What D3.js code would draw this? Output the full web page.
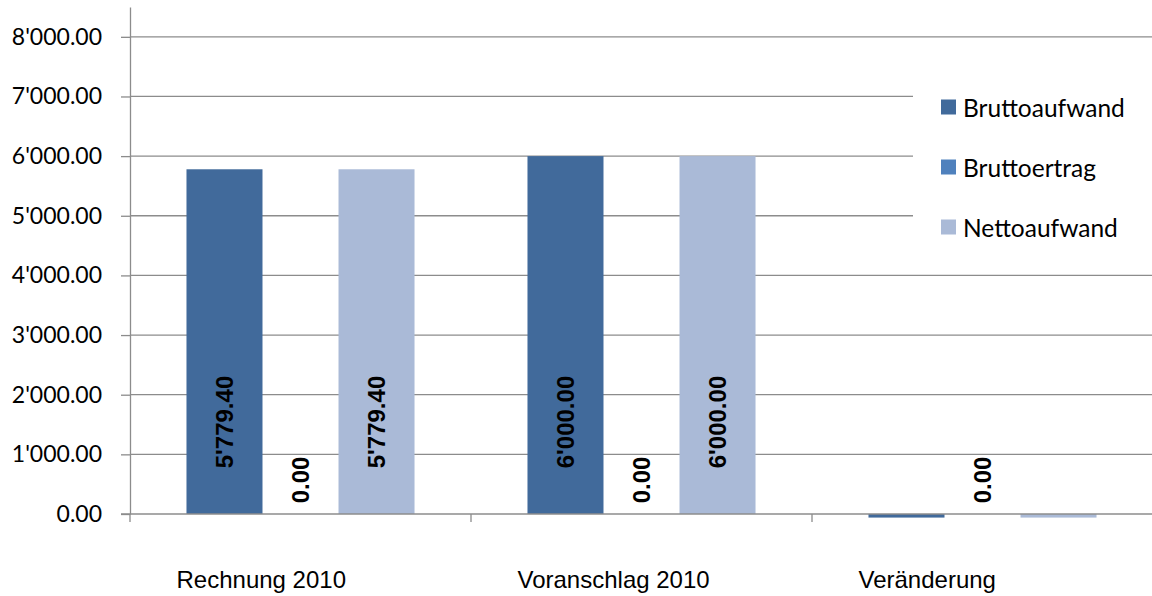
<!DOCTYPE html>
<html lang="de">
<head>
<meta charset="UTF-8">
<title>Rechnung / Voranschlag 2010</title>
<script src="https://d3js.org/d3.v7.min.js"></script>
<style>
  body { margin: 0; background: #fff; }
  svg { display: block; overflow: hidden; }
</style>
</head>
<body>
<div id="chart"></div>
<script>
// Data
const categories = ["Rechnung 2010", "Voranschlag 2010", "Veränderung"];
const seriesNames = ["Bruttoaufwand", "Bruttoertrag", "Nettoaufwand"];
const bruttoaufwand = [5779.40, 6000.00, -60];
const bruttoertrag = [0.00, 0.00, 0.00];
const nettoaufwand = [5779.40, 6000.00, -60];
const yTicks = [0, 1000, 2000, 3000, 4000, 5000, 6000, 7000, 8000];
const colors = ["#416a9b", "#4f81bd", "#aabad7"];

const seriesValues = [bruttoaufwand, bruttoertrag, nettoaufwand];

const margin = {top: 7, right: 0, bottom: 82, left: 130},
    W = 1152, H = 596,
    width = 1023,
    height = H - margin.top - margin.bottom;

const chLocale = d3.formatLocale({decimal: ".", thousands: "'", grouping: [3], currency: ["", ""]});
const fmt = chLocale.format(",.2f");

const svg = d3.select("#chart").append("svg")
    .attr("width", W)
    .attr("height", H)
  .append("g")
    .attr("transform", `translate(${margin.left},${margin.top})`);

const x = d3.scaleBand().domain(categories).range([0, width]).padding(0);
const x1 = d3.scaleBand().domain(seriesNames).range([0, x.bandwidth()])
    .paddingInner(0).paddingOuter(0.743);
const y = d3.scaleLinear().domain([0, 8500]).range([height, 0]);

const axisFont = "Lato, 'Open Sans', sans-serif";
const gridColor = "#8c8c8c";

// grid lines
svg.append("g").selectAll("line")
    .data(yTicks.filter(d => d > 0))
    .join("line")
    .attr("x1", 0).attr("x2", W)
    .attr("y1", d => y(d)).attr("y2", d => y(d))
    .attr("stroke", gridColor).attr("stroke-width", 1.3);

// y axis
const yAxis = svg.append("g")
    .call(d3.axisLeft(y).tickValues(yTicks).tickFormat(fmt).tickSize(9).tickSizeOuter(0).tickPadding(19));
yAxis.select(".domain").attr("stroke", gridColor).attr("stroke-width", 1.3);
yAxis.selectAll(".tick line").attr("stroke", gridColor).attr("stroke-width", 1.3);
yAxis.selectAll(".tick text")
    .attr("fill", "#000")
    .style("font-family", axisFont)
    .style("font-size", "23px");

// flat data for bars
const rows = [];
categories.forEach((c, i) => {
  seriesNames.forEach((s, j) => {
    rows.push({cat: c, series: s, value: seriesValues[j][i], color: colors[j]});
  });
});

// bars
svg.append("g").selectAll("rect")
    .data(rows)
    .join("rect")
    .attr("x", d => x(d.cat) + x1(d.series))
    .attr("y", d => y(Math.max(0, d.value)))
    .attr("width", x1.bandwidth())
    .attr("height", d => Math.abs(y(d.value) - y(0)))
    .attr("fill", d => d.color);

// x axis line and category ticks
svg.append("line")
    .attr("x1", -9).attr("x2", W)
    .attr("y1", y(0)).attr("y2", y(0))
    .attr("stroke", gridColor).attr("stroke-width", 1.3);
svg.append("g").selectAll("line")
    .data(categories)
    .join("line")
    .attr("x1", d => x(d)).attr("x2", d => x(d))
    .attr("y1", y(0)).attr("y2", y(0) + 8)
    .attr("stroke", gridColor).attr("stroke-width", 1.3);

// category labels
svg.append("g").selectAll("text")
    .data(categories)
    .join("text")
    .attr("x", d => x(d) + x.bandwidth() / 2 - 124)
    .attr("y", height + 74)
    .attr("text-anchor", "start")
    .style("font-family", "'Liberation Sans', Arial, sans-serif")
    .style("font-size", "24px")
    .attr("fill", "#000")
    .text(d => d);

// value labels (negative ones are not shown)
svg.append("g").selectAll("text")
    .data(rows.filter(d => d.value >= 0))
    .join("text")
    .attr("transform", d => {
      const cx = x(d.cat) + x1(d.series) + x1.bandwidth() / 2;
      const cy = y(0) - (d.value > 0 ? 92 : 34);
      return `translate(${cx},${cy}) rotate(-90)`;
    })
    .attr("text-anchor", "middle")
    .attr("dominant-baseline", "central")
    .style("font-family", "'Liberation Sans', Arial, sans-serif")
    .style("font-size", "24px")
    .style("font-weight", "bold")
    .attr("fill", "#000")
    .text(d => fmt(d.value));

// legend
const legend = svg.append("g")
    .attr("transform", `translate(${913 - margin.left},${40 - margin.top})`);
legend.append("rect")
    .attr("width", 260).attr("height", 230)
    .attr("fill", "#fff");
const items = legend.selectAll("g.item")
    .data(seriesNames)
    .join("g")
    .attr("class", "item")
    .attr("transform", (d, i) => `translate(28,${67 + i * 60})`);
items.append("rect")
    .attr("x", 0).attr("y", -7.5)
    .attr("width", 15).attr("height", 15)
    .attr("fill", (d, i) => colors[i]);
items.append("text")
    .attr("x", 22).attr("y", 0)
    .attr("dominant-baseline", "central")
    .style("font-family", axisFont)
    .style("font-size", "24.5px")
    .attr("fill", "#000")
    .text(d => d);
</script>
</body>
</html>
